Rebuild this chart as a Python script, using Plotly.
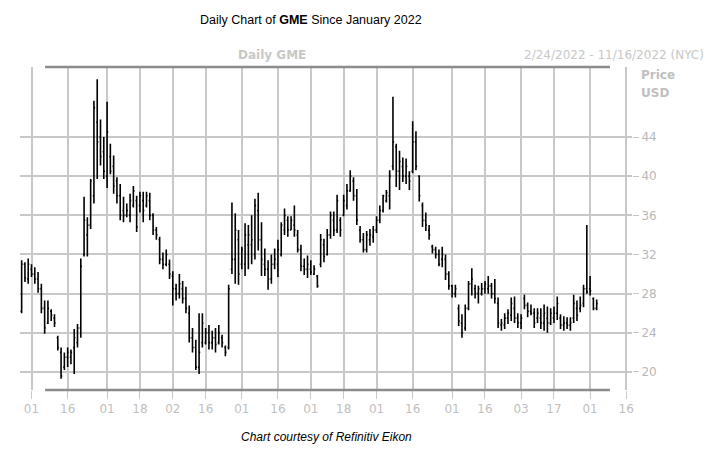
import pandas as pd
import plotly.graph_objects as go

holidays = ["2022-04-15", "2022-05-30", "2022-06-20", "2022-07-04", "2022-09-05"]
all_days = pd.bdate_range("2022-02-24", "2022-11-30")
trading = [d for d in all_days if d.strftime("%Y-%m-%d") not in holidays]

high = [31.4,31.2,31.6,31.0,30.7,30.2,29.0,27.3,27.3,26.4,25.9,23.7,22.5,22.0,22.5,22.3,24.4,24.9,31.6,37.9,
        35.8,39.7,47.7,49.9,45.8,44.0,47.6,43.3,42.1,39.9,39.2,37.9,37.2,38.2,39.0,38.0,38.4,38.4,38.4,38.3,
        36.2,34.8,33.8,32.2,32.5,31.5,30.3,29.0,30.0,29.3,28.7,26.8,24.5,23.3,26.0,26.0,24.5,24.8,24.2,24.5,
        24.8,23.8,22.7,28.9,37.3,36.2,34.5,32.8,35.2,35.0,36.0,37.7,38.3,35.3,32.6,31.4,32.0,32.6,33.5,35.3,
        36.7,35.9,35.9,37.0,34.5,33.0,31.6,31.9,31.4,30.9,29.9,34.1,33.6,34.6,36.4,36.4,38.1,35.8,38.1,39.2,
        40.6,39.9,38.7,34.9,34.2,34.4,34.6,34.9,35.9,37.0,38.1,38.6,40.6,48.1,43.3,42.6,41.9,41.8,40.5,45.6,
        44.6,40.1,37.3,36.3,35.0,33.0,32.8,32.5,32.8,32.0,30.3,28.9,28.9,26.9,25.9,26.9,29.3,30.6,28.9,28.8,
        29.1,29.3,29.8,29.1,29.5,27.6,25.4,26.0,26.4,27.6,27.7,26.0,25.9,27.9,27.1,26.9,26.5,26.5,26.5,26.9,
        26.7,26.5,26.7,27.7,25.9,25.7,25.6,25.6,27.9,27.3,27.7,28.9,35.0,29.8,27.6,27.4]
low = [26.0,29.2,29.0,29.7,29.0,28.1,26.0,23.9,24.9,25.2,24.6,22.2,19.3,20.2,20.5,20.8,19.8,22.5,23.5,31.8,
       31.8,34.6,37.2,39.7,41.1,39.7,38.8,40.2,38.2,37.2,35.5,35.3,35.8,35.3,36.8,34.3,36.3,35.3,36.8,35.5,
       34.0,33.5,31.0,30.5,30.8,29.5,26.8,27.3,27.5,27.0,26.0,23.0,22.0,20.2,19.8,22.5,22.8,22.3,22.3,22.0,
       22.8,22.5,21.6,22.3,30.0,29.0,28.9,30.5,29.8,30.5,31.0,31.5,32.4,29.8,29.8,28.4,29.0,30.5,29.7,31.8,
       34.0,33.8,34.5,33.8,32.2,30.3,29.9,29.6,29.9,29.9,28.6,30.7,31.2,31.9,33.6,33.9,34.2,33.8,35.9,36.6,
       38.4,37.5,35.0,33.2,32.2,32.2,32.9,33.2,34.2,35.2,36.3,37.3,36.6,40.6,38.9,38.6,39.4,39.2,38.6,40.3,
       40.6,37.4,34.8,34.4,33.5,32.1,31.6,30.8,30.7,29.4,28.4,27.6,27.6,24.7,23.5,24.2,26.3,27.8,27.5,27.0,
       27.8,28.0,28.0,27.5,27.0,24.5,24.2,24.4,24.9,25.2,25.0,24.5,24.4,26.4,25.6,25.8,24.5,25.0,24.4,24.2,
       24.0,24.8,25.0,25.3,24.4,24.2,24.4,24.2,25.0,25.2,26.1,26.6,28.0,27.8,26.3,26.3]
open_ = [26.2,31.0,29.5,30.5,30.0,29.5,28.5,26.5,25.0,26.2,25.5,23.5,22.0,20.5,21.5,21.5,22.5,23.0,24.5,32.0,
         34.0,35.0,38.0,45.5,44.0,42.5,40.0,42.0,41.0,39.5,38.0,36.5,36.0,36.0,37.0,37.5,37.0,37.5,37.0,37.5,
         36.0,34.5,33.5,31.5,31.0,31.0,29.8,28.5,28.0,28.5,27.5,26.0,23.5,22.5,20.5,23.0,23.0,24.0,23.0,23.5,
         23.0,23.5,22.5,22.5,30.5,31.5,33.5,31.0,31.0,33.0,33.0,32.0,36.5,33.5,31.0,30.5,29.5,31.0,31.0,32.0,
         34.5,35.5,34.5,35.0,34.0,32.5,30.8,30.5,30.5,30.0,29.8,31.0,33.0,32.0,34.0,35.5,34.5,35.5,36.0,37.0,
         38.5,39.5,38.0,34.5,33.5,32.5,33.5,33.8,34.5,35.5,36.5,37.5,38.0,41.0,43.0,40.5,41.0,40.0,40.0,40.5,
         43.5,40.0,37.0,35.5,34.5,32.8,32.5,32.0,31.5,31.5,30.0,28.8,28.0,26.5,25.0,24.5,26.5,29.0,28.5,28.0,
         28.0,28.5,28.5,28.8,28.0,27.0,24.8,24.8,25.5,25.8,26.5,25.5,25.0,27.5,26.8,26.2,26.0,25.5,25.5,25.0,
         25.5,25.0,25.5,26.0,25.5,24.8,25.0,24.8,25.5,26.5,26.5,27.0,28.5,28.5,27.5,26.5]
close = [31.0,29.6,31.0,30.0,29.5,28.5,26.5,24.5,26.5,25.8,25.0,22.5,19.6,21.5,22.0,22.0,23.5,24.5,30.8,35.5,
         35.0,39.5,47.0,43.5,42.0,40.5,44.5,40.5,39.0,38.0,36.0,36.0,36.5,37.5,38.5,34.8,38.0,36.5,38.0,36.0,
         34.5,34.0,31.5,31.0,32.0,30.0,28.5,28.0,29.0,27.5,26.5,23.5,22.5,20.5,22.0,25.0,24.0,23.0,23.5,22.8,
         24.0,23.0,22.0,28.5,31.5,34.5,30.0,32.5,34.0,34.0,33.5,37.0,33.5,31.5,30.5,29.5,31.0,31.5,32.5,35.0,
         36.0,34.5,35.5,34.5,32.5,30.8,30.5,31.0,30.2,30.5,28.8,33.5,31.8,34.0,36.0,34.5,37.5,34.5,37.5,38.5,
         40.0,38.0,35.5,33.5,32.5,34.0,34.0,34.5,35.5,36.5,38.0,38.3,40.0,43.5,40.5,41.5,40.0,41.0,39.5,43.5,
         41.0,38.0,35.5,35.0,34.0,32.5,32.0,31.0,32.0,30.0,28.8,28.0,28.5,25.2,24.0,26.5,29.0,29.5,28.0,28.5,
         28.5,29.0,28.8,28.0,27.5,25.0,25.0,25.5,26.0,27.0,25.5,25.0,25.5,26.8,26.2,26.0,25.0,26.0,25.0,26.0,
         25.0,26.0,26.0,27.0,24.8,25.0,24.8,25.0,27.0,25.8,26.8,28.5,28.2,28.3,26.5,27.0]

dates = trading[:len(close)]

tick_dates = ["2022-03-01","2022-03-16","2022-04-01","2022-04-18","2022-05-02","2022-05-16",
              "2022-06-01","2022-06-16","2022-07-01","2022-07-18","2022-08-01","2022-08-16",
              "2022-09-01","2022-09-16","2022-10-03","2022-10-17","2022-11-01","2022-11-16"]
tick_text = ["01","16","01","18","02","16","01","16","01","18","01","16","01","16","03","17","01","16"]
y_ticks = [20, 24, 28, 32, 36, 40, 44]

fig = go.Figure(go.Ohlc(
    x=dates, open=open_, high=high, low=low, close=close,
    increasing=dict(line=dict(color="#000000", width=1.6)),
    decreasing=dict(line=dict(color="#000000", width=1.6)),
    tickwidth=0.35, showlegend=False, hoverinfo="skip"))

def note(text, x, y, size=12, color="#c8c8c8", xanchor="center", family="DejaVu Sans"):
    return dict(text=text, xref="paper", yref="paper", x=x, y=y, xanchor=xanchor,
                yanchor="middle", showarrow=False, font=dict(size=size, color=color, family=family))

fig.update_layout(
    width=712, height=455,
    margin=dict(l=12, r=88, t=59, b=73),
    paper_bgcolor="white", plot_bgcolor="white",
    font=dict(family="Liberation Sans, Arial", color="#000"),
    xaxis=dict(
        rangeslider=dict(visible=False),
        rangebreaks=[dict(bounds=["sat", "mon"]), dict(values=holidays)],
        range=["2022-02-23 12:00", "2022-11-17 18:00"],
        tickvals=tick_dates, ticktext=tick_text,
        showgrid=True, gridcolor="#c8c8c8", gridwidth=1.5,
        ticks="outside", ticklen=8, tickcolor="#c8c8c8",
        tickfont=dict(size=12, color="#c0c0c0", family="DejaVu Sans"),
        zeroline=False, showline=False,
    ),
    yaxis=dict(
        side="right", range=[18.16, 51.15], tickvals=y_ticks,
        showgrid=True, gridcolor="#c8c8c8", gridwidth=1.5,
        ticks="outside", ticklen=6, tickcolor="#c8c8c8",
        tickfont=dict(size=12, color="#b8b8b8", family="DejaVu Sans"),
        zeroline=False, showline=False,
    ),
    shapes=[
        dict(type="line", xref="paper", yref="paper", x0=0.041, x1=0.964, y0=1, y1=1,
             line=dict(color="#8c8c8c", width=2.5)),
        dict(type="line", xref="paper", yref="paper", x0=0.041, x1=0.964, y0=0, y1=0,
             line=dict(color="#8c8c8c", width=2.5)),
    ],
    annotations=[
        note("Daily Chart of <b>GME</b> Since January 2022", 0.475, 1.146, 12.5, "#000",
             family="Liberation Sans, Arial"),
        note("<b>Daily GME</b>", 0.412, 1.037),
        note("2/24/2022 - 11/16/2022 (NYC)", 1.121, 1.037, xanchor="right"),
        note("<b>Price</b>", 1.012, 0.975, color="#c0c0c0", xanchor="left"),
        note("<b>USD</b>", 1.012, 0.92, color="#c0c0c0", xanchor="left"),
        note("<i>Chart courtesy of Refinitiv Eikon</i>", 0.5, -0.146, 12, "#000",
             family="Liberation Sans, Arial"),
    ],
)

fig.write_html("out.html")
